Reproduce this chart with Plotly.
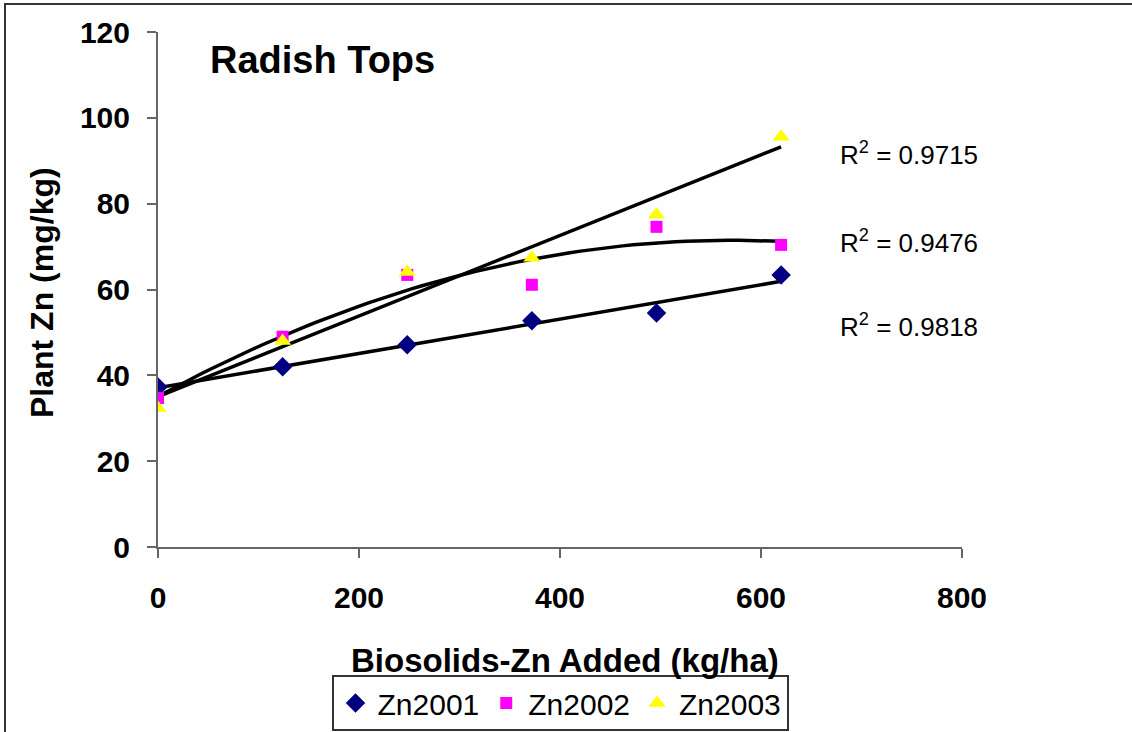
import numpy as np
import plotly.graph_objects as go

x_vals = [0, 124, 248, 372, 496, 620]
zn2001 = [37.3, 42.0, 47.1, 52.7, 54.5, 63.4]
zn2002 = [34.7, 49.0, 63.4, 61.1, 74.6, 70.4]
zn2003 = [32.4, 48.0, 64.1, 67.4, 77.4, 95.6]
r2_labels = ["R<sup>2</sup> = 0.9715", "R<sup>2</sup> = 0.9476", "R<sup>2</sup> = 0.9818"]
r2_y = [91.8, 71.1, 51.5]

FONT = "Arial, Liberation Sans"
PW, PH = 804, 515

fig = go.Figure()
xs = np.array(x_vals, dtype=float)
xf = np.linspace(0, 620, 60)

# trendlines (fitted from the data, as in the original spreadsheet chart)
p1 = np.polyfit(xs, zn2001, 1)
p2 = np.polyfit(xs, zn2002, 2)
p3 = np.polyfit(xs, zn2003, 1)
for p in (p1, p2, p3):
    fig.add_trace(go.Scatter(x=xf, y=np.polyval(p, xf), mode="lines",
                             line=dict(color="black", width=3.5), showlegend=False,
                             hoverinfo="skip"))

fig.add_trace(go.Scatter(x=x_vals, y=zn2001, mode="markers", name="Zn2001",
                         marker=dict(symbol="diamond", color="#000080", size=15)))
fig.add_trace(go.Scatter(x=x_vals, y=zn2002, mode="markers", name="Zn2002",
                         marker=dict(symbol="square", color="#FF00FF", size=12)))
fig.add_trace(go.Scatter(x=x_vals, y=zn2003, mode="markers", name="Zn2003",
                         marker=dict(symbol="triangle-up", color="#FFFF00", size=15)))

for t, yv in zip(r2_labels, r2_y):
    fig.add_annotation(x=(838 - 158) / PW, y=yv / 120, xref="paper", yref="paper", text=t,
                       showarrow=False, xanchor="left", yanchor="middle",
                       font=dict(family=FONT, size=26, color="black"))

fig.add_annotation(x=(208 - 158) / PW, y=1.0 - (60 - 32) / PH, xref="paper", yref="paper",
                   text="<b>Radish Tops</b>", showarrow=False, xanchor="left", yanchor="middle",
                   font=dict(family=FONT, size=38, color="black"))

# y-axis title placed as a rotated annotation
fig.add_annotation(x=(42 - 158) / PW, y=(547 - 292) / PH, xref="paper", yref="paper",
                   text="<b>Plant Zn (mg/kg)</b>", showarrow=False, textangle=-90,
                   xanchor="center", yanchor="middle",
                   font=dict(family=FONT, size=32, color="black"))
# x-axis title
fig.add_annotation(x=(565 - 158) / PW, y=(547 - 660) / PH, xref="paper", yref="paper",
                   text="<b>Biosolids-Zn Added (kg/ha)</b>", showarrow=False,
                   xanchor="center", yanchor="middle",
                   font=dict(family=FONT, size=33, color="black"))

# outer chart border
fig.add_shape(type="rect", xref="paper", yref="paper",
              x0=(5 - 158) / PW, x1=(1140 - 158) / PW,
              y0=(547 - 745) / PH, y1=(547 - 4) / PH,
              line=dict(color="#333333", width=2), fillcolor="rgba(0,0,0,0)")

axis_font = dict(family=FONT, size=30, color="black")
fig.update_xaxes(range=[0, 800], tickvals=[0, 200, 400, 600, 800],
                 ticktext=["<b>%d</b>" % v for v in [0, 200, 400, 600, 800]],
                 showgrid=False, zeroline=False, showline=True, linecolor="#666666", linewidth=2,
                 ticks="outside", ticklen=9, tickcolor="#666666", tickwidth=2,
                 tickfont=axis_font, ticklabelstandoff=14, automargin=False)
fig.update_yaxes(range=[0, 120], tickvals=[0, 20, 40, 60, 80, 100, 120],
                 ticktext=["<b>%d</b>" % v for v in [0, 20, 40, 60, 80, 100, 120]],
                 showgrid=False, zeroline=False, showline=True, linecolor="#666666", linewidth=2,
                 ticks="outside", ticklen=9, tickcolor="#666666", tickwidth=2,
                 tickfont=axis_font, ticklabelstandoff=11, automargin=False)

fig.update_layout(width=1132, height=732, plot_bgcolor="white", paper_bgcolor="white",
                  margin=dict(l=158, r=170, t=32, b=185, autoexpand=False),
                  legend=dict(orientation="h", x=(560 - 158) / PW, xanchor="center",
                              y=(547 - 703) / PH, yanchor="middle",
                              bordercolor="#333333", borderwidth=2,
                              font=dict(family=FONT, size=30, color="black"),
                              itemwidth=34))

fig.write_html("out.html")
